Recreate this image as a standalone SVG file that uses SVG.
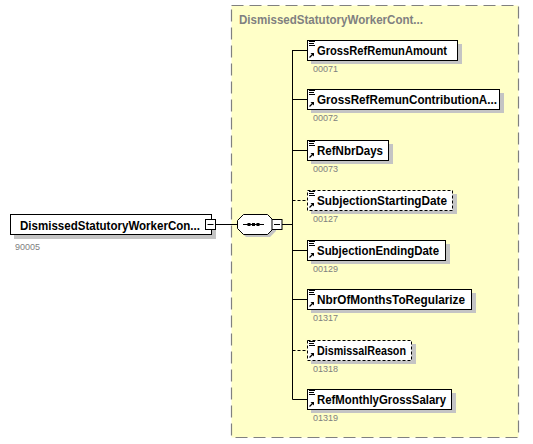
<svg xmlns="http://www.w3.org/2000/svg" xmlns:xlink="http://www.w3.org/1999/xlink" width="533" height="444" viewBox="0 0 533 444">
<style>
.lbl{font-family:"Liberation Sans",Arial,sans-serif;font-weight:bold;font-size:13px;fill:#000}
.ttl{font-family:"Liberation Sans",Arial,sans-serif;font-weight:bold;font-size:13px;fill:#808080}
.id{font-family:"Liberation Sans",Arial,sans-serif;font-size:9px;fill:#808080}
.box{fill:#fff;stroke:#000;stroke-width:1}
.opt{fill:#fff;stroke:#000;stroke-width:1;stroke-dasharray:3,2}
.sh{fill:#c4c4c4}
.ln{stroke:#000;stroke-width:1;fill:none}
.dln{stroke:#000;stroke-width:1;fill:none;stroke-dasharray:3,2}
</style>
<defs>
<g id="icon">
<path d="M2 1.5h6M2 3.5h5M2 5.5h6" stroke="#000" stroke-width="1" fill="none"/>
<path d="M2.5 17.5L6 14" stroke="#000" stroke-width="1.2"/>
<polygon points="3.5,13 7,13 7,16.5" fill="#000"/>
</g>
<g id="minus">
<rect x="0.5" y="0.5" width="10" height="10" fill="#fff" stroke="#000"/>
<path d="M2.5 5.5h6" stroke="#000"/>
</g>
</defs>

<rect x="231.5" y="5.5" width="287" height="432" fill="#FFFFC8" stroke="#808080" stroke-width="1.2" stroke-dasharray="12,6"/>
<text class="ttl" x="239" y="23.5" textLength="184" lengthAdjust="spacingAndGlyphs">DismissedStatutoryWorkerCont...</text>

<g id="connectors">
<path class="ln" d="M216 224.5H237"/>
<path class="ln" d="M282 224.5H292.5"/>
<path class="ln" d="M292.5 50V399.5"/>
<path class="ln" d="M292.5 50.5H307"/>
<path class="ln" d="M292.5 99.5H307"/>
<path class="ln" d="M292.5 150.5H307"/>
<path class="dln" d="M292.5 200.5H307"/>
<path class="ln" d="M292.5 250.5H307"/>
<path class="ln" d="M292.5 299.5H307"/>
<path class="dln" d="M292.5 350.5H307"/>
<path class="ln" d="M292.5 399.5H307"/>
</g>

<g id="root">
<rect class="sh" x="14" y="219" width="202" height="20"/>
<rect class="box" x="10.5" y="214.5" width="201" height="20"/>
<text class="lbl" x="20" y="229.5" textLength="180" lengthAdjust="spacingAndGlyphs">DismissedStatutoryWorkerCon...</text>
<use xlink:href="#minus" x="205" y="219"/>
<text class="id" x="15" y="250">90005</text>
</g>

<g id="sequence">
<polygon class="sh" points="246,217 270,217 276,223 276,231 270,237 246,237 240,231 240,223"/>
<polygon class="box" points="243.5,214.5 267.5,214.5 273.5,220.5 273.5,228.5 267.5,234.5 243.5,234.5 237.5,228.5 237.5,220.5"/>
<path class="ln" d="M243 224.5H264"/>
<rect x="247.5" y="223" width="3" height="3" fill="#000"/>
<rect x="252" y="223" width="3" height="3" fill="#000"/>
<rect x="256.5" y="223" width="3" height="3" fill="#000"/>
<use xlink:href="#minus" x="271.5" y="219"/>
</g>

<g id="n1">
<rect class="sh" x="311" y="44" width="151" height="20"/>
<rect class="box" x="307.5" y="40.5" width="150" height="20"/>
<use xlink:href="#icon" x="307" y="40"/>
<text class="lbl" x="317" y="54.8" textLength="130" lengthAdjust="spacingAndGlyphs">GrossRefRemunAmount</text>
<text class="id" x="313" y="72">00071</text>
</g>

<g id="n2">
<rect class="sh" x="311" y="93" width="193" height="20"/>
<rect class="box" x="307.5" y="89.5" width="192" height="20"/>
<use xlink:href="#icon" x="307" y="89"/>
<text class="lbl" x="317" y="103.8" textLength="180" lengthAdjust="spacingAndGlyphs">GrossRefRemunContributionA...</text>
<text class="id" x="313" y="121">00072</text>
</g>

<g id="n3">
<rect class="sh" x="311" y="144" width="82" height="20"/>
<rect class="box" x="307.5" y="140.5" width="81" height="20"/>
<use xlink:href="#icon" x="307" y="140"/>
<text class="lbl" x="317" y="154.8" textLength="66" lengthAdjust="spacingAndGlyphs">RefNbrDays</text>
<text class="id" x="313" y="172">00073</text>
</g>

<g id="n4">
<rect class="sh" x="311" y="194" width="146" height="20"/>
<rect class="opt" x="307.5" y="190.5" width="145" height="20"/>
<use xlink:href="#icon" x="307" y="190"/>
<text class="lbl" x="317" y="204.8" textLength="130" lengthAdjust="spacingAndGlyphs">SubjectionStartingDate</text>
<text class="id" x="313" y="222">00127</text>
</g>

<g id="n5">
<rect class="sh" x="311" y="244" width="139" height="20"/>
<rect class="box" x="307.5" y="240.5" width="138" height="20"/>
<use xlink:href="#icon" x="307" y="240"/>
<text class="lbl" x="317" y="254.8" textLength="122" lengthAdjust="spacingAndGlyphs">SubjectionEndingDate</text>
<text class="id" x="313" y="272">00129</text>
</g>

<g id="n6">
<rect class="sh" x="311" y="293" width="165" height="20"/>
<rect class="box" x="307.5" y="289.5" width="164" height="20"/>
<use xlink:href="#icon" x="307" y="289"/>
<text class="lbl" x="317" y="303.8" textLength="148" lengthAdjust="spacingAndGlyphs">NbrOfMonthsToRegularize</text>
<text class="id" x="313" y="321">01317</text>
</g>

<g id="n7">
<rect class="sh" x="311" y="344" width="105" height="20"/>
<rect class="opt" x="307.5" y="340.5" width="104" height="20"/>
<use xlink:href="#icon" x="307" y="340"/>
<text class="lbl" x="317" y="354.8" textLength="89" lengthAdjust="spacingAndGlyphs">DismissalReason</text>
<text class="id" x="313" y="372">01318</text>
</g>

<g id="n8">
<rect class="sh" x="311" y="393" width="145" height="20"/>
<rect class="box" x="307.5" y="389.5" width="144" height="20"/>
<use xlink:href="#icon" x="307" y="389"/>
<text class="lbl" x="317" y="403.8" textLength="129" lengthAdjust="spacingAndGlyphs">RefMonthlyGrossSalary</text>
<text class="id" x="313" y="421">01319</text>
</g>
</svg>
